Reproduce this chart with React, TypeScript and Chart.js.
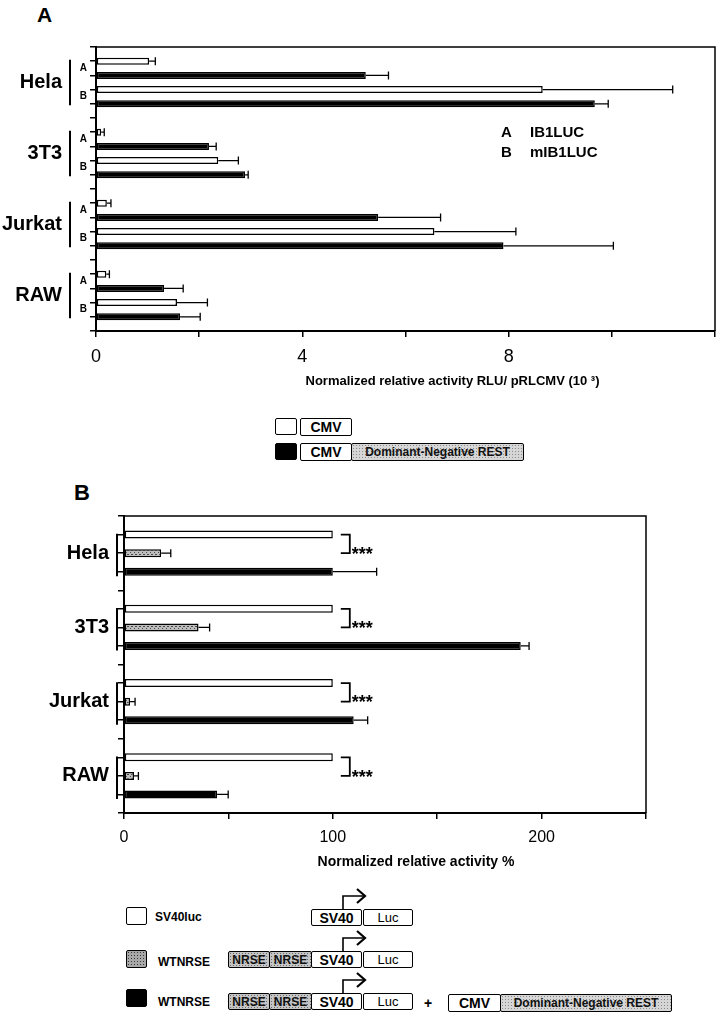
import React, { useEffect, useRef } from 'react';
import { Chart, registerables } from 'chart.js';

Chart.register(...registerables);

const FONT = '"Liberation Sans", Arial, Helvetica, sans-serif';
Chart.defaults.font.family = FONT;

// ---------- Panel A data ----------
const CELLS = ['Hela', '3T3', 'Jurkat', 'RAW'];
const A_SLOT_LABELS = ['', 'A', '', 'B', ''];
const A_X_LABELS = [0, 4, 8];
const A_KEYS = ['A', 'B'];
const A_CONSTRUCTS = ['IB1LUC', 'mIB1LUC'];
const A_TITLE = 'Normalized relative activity RLU/ pRLCMV (10 \u00b3)';

const CMV_IB1 = [1.03, 0.1, 0.21, 0.2];
const CMV_IB1_ERR = [0.12, 0.06, 0.08, 0.06];
const DN_IB1 = [5.23, 2.19, 5.47, 1.32];
const DN_IB1_ERR = [0.44, 0.14, 1.21, 0.37];
const CMV_MIB1 = [8.66, 2.37, 6.56, 1.57];
const CMV_MIB1_ERR = [2.52, 0.39, 1.58, 0.59];
const DN_MIB1 = [9.67, 2.89, 7.9, 1.63];
const DN_MIB1_ERR = [0.26, 0.06, 2.13, 0.39];

// ---------- Panel B data ----------
const B_X_LABELS = [0, 100, 200];
const B_TITLE = 'Normalized relative activity %';
const SV40 = [100, 100, 100, 100];
const WTNRSE = [17.8, 35.7, 2.9, 4.8];
const WTNRSE_ERR = [4.6, 5.3, 2.4, 2.1];
const WTNRSE_DN = [100, 190, 110, 44.6];
const WTNRSE_DN_ERR = [21, 4, 6.7, 5.3];
const SIGNIF = '***';

function stipple(ctx: CanvasRenderingContext2D, base: string, dot: string) {
  const c = document.createElement('canvas');
  c.width = 4;
  c.height = 4;
  const g = c.getContext('2d')!;
  g.fillStyle = base;
  g.fillRect(0, 0, 4, 4);
  g.fillStyle = dot;
  g.fillRect(0, 0, 1, 1);
  g.fillRect(2, 2, 1, 1);
  g.fillRect(3, 0, 1, 1);
  return ctx.createPattern(c, 'repeat');
}

const errorBars = {
  id: 'errorBars',
  afterDatasetsDraw(chart: any) {
    const ctx = chart.ctx;
    const xs = chart.scales.x;
    chart.data.datasets.forEach((ds: any, di: number) => {
      if (!ds.errors) return;
      const meta = chart.getDatasetMeta(di);
      meta.data.forEach((bar: any, j: number) => {
        const err = ds.errors[j];
        if (!err) return;
        const v = ds.data[j].x;
        const x0 = bar.x;
        const x1 = xs.getPixelForValue(v + err);
        const y = bar.y;
        ctx.save();
        ctx.strokeStyle = '#000';
        ctx.lineWidth = 1.3;
        ctx.beginPath();
        ctx.moveTo(x0, y);
        ctx.lineTo(x1, y);
        ctx.moveTo(x1, y - 4);
        ctx.lineTo(x1, y + 4);
        ctx.stroke();
        ctx.restore();
      });
    });
  },
};

function drawBox(ctx: CanvasRenderingContext2D, a: any) {
  ctx.strokeStyle = '#000';
  ctx.lineWidth = 1.5;
  ctx.beginPath();
  ctx.moveTo(a.left, a.top);
  ctx.lineTo(a.right, a.top);
  ctx.lineTo(a.right, a.bottom);
  ctx.stroke();
}

const decoA = {
  id: 'decoA',
  afterDraw(chart: any) {
    const { ctx, chartArea: a, scales } = chart;
    const y = scales.y;
    ctx.save();
    drawBox(ctx, a);
    ctx.fillStyle = '#000';
    ctx.font = `bold 20px ${FONT}`;
    ctx.textAlign = 'right';
    ctx.textBaseline = 'middle';
    CELLS.forEach((c, i) => ctx.fillText(c, a.left - 34, y.getPixelForValue(i * 5 + 2)));
    ctx.lineWidth = 2;
    CELLS.forEach((c, i) => {
      ctx.beginPath();
      ctx.moveTo(a.left - 26, y.getPixelForValue(i * 5 + 0.4));
      ctx.lineTo(a.left - 26, y.getPixelForValue(i * 5 + 3.6));
      ctx.stroke();
    });
    ctx.font = `bold 15px ${FONT}`;
    ctx.textAlign = 'left';
    A_KEYS.forEach((k, i) => {
      ctx.fillText(k, a.left + 405, a.top + 86 + i * 20);
      ctx.fillText(A_CONSTRUCTS[i], a.left + 434, a.top + 86 + i * 20);
    });
    ctx.font = `bold 13px ${FONT}`;
    ctx.textAlign = 'center';
    ctx.fillText(A_TITLE, (a.left + a.right) / 2 + 47, a.bottom + 50);
    ctx.restore();
  },
};

const decoB = {
  id: 'decoB',
  afterDraw(chart: any) {
    const { ctx, chartArea: a, scales } = chart;
    const y = scales.y;
    const x = scales.x;
    ctx.save();
    drawBox(ctx, a);
    ctx.fillStyle = '#000';
    ctx.font = `bold 20px ${FONT}`;
    ctx.textAlign = 'right';
    ctx.textBaseline = 'middle';
    CELLS.forEach((c, i) => ctx.fillText(c, a.left - 15, y.getPixelForValue(i * 4 + 1.5)));
    ctx.lineWidth = 2;
    CELLS.forEach((c, i) => {
      ctx.beginPath();
      ctx.moveTo(a.left - 7, y.getPixelForValue(i * 4 + 0.45));
      ctx.lineTo(a.left - 7, y.getPixelForValue(i * 4 + 2.75));
      ctx.stroke();
    });
    // significance brackets
    ctx.lineWidth = 1.8;
    ctx.textAlign = 'left';
    ctx.textBaseline = 'alphabetic';
    ctx.font = `bold 18px ${FONT}`;
    CELLS.forEach((c, i) => {
      const xr = x.getPixelForValue(SV40[i]);
      const y1 = y.getPixelForValue(i * 4 + 0.5);
      const y2 = y.getPixelForValue(i * 4 + 1.5);
      ctx.beginPath();
      ctx.moveTo(xr + 8, y1);
      ctx.lineTo(xr + 17, y1);
      ctx.lineTo(xr + 17, y2);
      ctx.lineTo(xr + 8, y2);
      ctx.stroke();
      ctx.fillText(SIGNIF, xr + 19, (y1 + y2) / 2 + 6 + 10);
    });
    ctx.textBaseline = 'middle';
    ctx.font = `bold 14px ${FONT}`;
    ctx.textAlign = 'center';
    ctx.fillText(B_TITLE, (a.left + a.right) / 2 + 31, a.bottom + 49);
    ctx.restore();
  },
};

const barBase = {
  borderColor: '#000',
  borderWidth: 1.5,
  borderSkipped: false,
  grouped: false,
};

const axisGrid = { drawOnChartArea: false, drawTicks: true, tickLength: 6, color: '#000', lineWidth: 1.5 };
const axisBorder = { display: true, color: '#000', width: 2 };

function makeA(canvas: HTMLCanvasElement) {
  const whitePts: any[] = [];
  const whiteErr: number[] = [];
  const blackPts: any[] = [];
  const blackErr: number[] = [];
  CELLS.forEach((c, i) => {
    whitePts.push({ x: CMV_IB1[i], y: i * 5 + 0.5 }, { x: CMV_MIB1[i], y: i * 5 + 2.5 });
    whiteErr.push(CMV_IB1_ERR[i], CMV_MIB1_ERR[i]);
    blackPts.push({ x: DN_IB1[i], y: i * 5 + 1.5 }, { x: DN_MIB1[i], y: i * 5 + 3.5 });
    blackErr.push(DN_IB1_ERR[i], DN_MIB1_ERR[i]);
  });
  return new Chart(canvas, {
    type: 'bar',
    data: {
      datasets: [
        { ...barBase, label: 'CMV', data: whitePts, errors: whiteErr, backgroundColor: '#fff', maxBarThickness: 7 } as any,
        { ...barBase, label: 'CMV + Dominant-Negative REST', data: blackPts, errors: blackErr, backgroundColor: '#000', maxBarThickness: 7 } as any,
      ],
    },
    options: {
      indexAxis: 'y',
      animation: false,
      responsive: false,
      devicePixelRatio: 1,
      layout: { padding: { left: 0, top: 47, right: 5, bottom: 0 } },
      plugins: { legend: { display: false }, tooltip: { enabled: false } },
      scales: {
        x: {
          type: 'linear',
          min: 0,
          max: 12,
          ticks: {
            stepSize: 2,
            autoSkip: false,
            maxRotation: 0,
            padding: 9,
            color: '#000',
            font: { size: 18 },
            callback: (v: any) => (A_X_LABELS.includes(Number(v)) ? String(v) : ''),
          },
          grid: axisGrid,
          border: axisBorder,
          afterFit: (s: any) => {
            s.height = 69;
          },
        },
        y: {
          type: 'linear',
          reverse: true,
          min: 0,
          max: 19,
          ticks: {
            stepSize: 1,
            autoSkip: false,
            padding: 3,
            color: '#000',
            font: { size: 10, weight: 'bold' },
            callback: (v: any) => A_SLOT_LABELS[Math.round(Number(v)) % 5] || '',
          },
          grid: axisGrid,
          border: axisBorder,
          afterFit: (s: any) => {
            s.width = 96;
          },
        },
      } as any,
    },
    plugins: [errorBars, decoA],
  });
}

function makeB(canvas: HTMLCanvasElement) {
  const ctx = canvas.getContext('2d')!;
  const grey = stipple(ctx, '#bdbdbd', '#4a4a4a');
  const whitePts = CELLS.map((c, i) => ({ x: SV40[i], y: i * 4 + 0.5 }));
  const greyPts = CELLS.map((c, i) => ({ x: WTNRSE[i], y: i * 4 + 1.5 }));
  const blackPts = CELLS.map((c, i) => ({ x: WTNRSE_DN[i], y: i * 4 + 2.5 }));
  return new Chart(canvas, {
    type: 'bar',
    data: {
      datasets: [
        { ...barBase, label: 'SV40luc', data: whitePts, backgroundColor: '#fff', maxBarThickness: 8 } as any,
        { ...barBase, label: 'WTNRSE', data: greyPts, errors: WTNRSE_ERR, backgroundColor: grey, maxBarThickness: 8 } as any,
        { ...barBase, label: 'WTNRSE + DN-REST', data: blackPts, errors: WTNRSE_DN_ERR, backgroundColor: '#000', maxBarThickness: 8 } as any,
      ],
    },
    options: {
      indexAxis: 'y',
      animation: false,
      responsive: false,
      devicePixelRatio: 1,
      layout: { padding: { left: 0, top: 46, right: 78, bottom: 0 } },
      plugins: { legend: { display: false }, tooltip: { enabled: false } },
      scales: {
        x: {
          type: 'linear',
          min: 0,
          max: 250,
          ticks: {
            stepSize: 50,
            autoSkip: false,
            maxRotation: 0,
            padding: 9,
            color: '#000',
            font: { size: 16 },
            callback: (v: any) => (B_X_LABELS.includes(Number(v)) ? String(v) : ''),
          },
          grid: axisGrid,
          border: axisBorder,
          afterFit: (s: any) => {
            s.height = 57;
          },
        },
        y: {
          type: 'linear',
          reverse: true,
          min: 0,
          max: 15,
          ticks: {
            stepSize: 1,
            autoSkip: false,
            padding: 3,
            color: '#000',
            callback: () => '',
          },
          grid: axisGrid,
          border: axisBorder,
          afterFit: (s: any) => {
            s.width = 124;
          },
        },
      } as any,
    },
    plugins: [errorBars, decoB],
  });
}

function ChartCanvas({ top, height, make }: { top: number; height: number; make: (c: HTMLCanvasElement) => Chart }) {
  const ref = useRef<HTMLCanvasElement>(null);
  useEffect(() => {
    const chart = make(ref.current!);
    return () => chart.destroy();
  }, []);
  return (
    <canvas
      ref={ref}
      width={724}
      height={height}
      style={{ position: 'absolute', left: 0, top, width: 724, height, display: 'block' }}
    />
  );
}

const STIPPLE_DARK: React.CSSProperties = {
  backgroundColor: '#a8a8a8',
  backgroundImage: 'radial-gradient(circle, #3a3a3a 0.7px, transparent 1px)',
  backgroundSize: '3px 3px',
};
const STIPPLE_MID: React.CSSProperties = {
  backgroundColor: '#c4c4c4',
  backgroundImage: 'radial-gradient(circle, #6a6a6a 0.6px, transparent 0.9px)',
  backgroundSize: '3px 3px',
};
const STIPPLE_LIGHT: React.CSSProperties = {
  backgroundColor: '#d6d6d6',
  backgroundImage: 'radial-gradient(circle, #8a8a8a 0.6px, transparent 0.9px)',
  backgroundSize: '3px 3px',
};

function Box({
  l, t, w, h, bg = '#fff', text, fs = 14, weight = 'bold', extra, color = '#000',
}: {
  l: number; t: number; w: number; h: number; bg?: string; text?: string; fs?: number; weight?: any; extra?: React.CSSProperties; color?: string;
}) {
  return (
    <div
      style={{
        position: 'absolute', left: l, top: t, width: w, height: h, boxSizing: 'border-box',
        border: '1.5px solid #000', borderRadius: 2, background: bg, display: 'flex',
        alignItems: 'center', justifyContent: 'center', fontSize: fs, fontWeight: weight,
        lineHeight: 1, whiteSpace: 'nowrap', color, ...(extra || {}),
      }}
    >
      {text}
    </div>
  );
}

function Label({ l, cy, text, fs, weight = 'bold' }: { l: number; cy: number; text: string; fs: number; weight?: any }) {
  return (
    <div
      style={{
        position: 'absolute', left: l, top: cy, transform: 'translateY(-50%)', fontSize: fs,
        fontWeight: weight, lineHeight: 1, whiteSpace: 'nowrap',
      }}
    >
      {text}
    </div>
  );
}

function Arrow({ l, t }: { l: number; t: number }) {
  return (
    <svg width={30} height={24} style={{ position: 'absolute', left: l, top: t }}>
      <polyline points="3,23 3,10 24,10" fill="none" stroke="#000" strokeWidth={1.6} />
      <polyline points="17,3 25,10 17,17" fill="none" stroke="#000" strokeWidth={2.2} />
    </svg>
  );
}

const PROMOTER_ROWS = [909, 951, 993];

export default function App() {
  return (
    <div style={{ position: 'absolute', left: 0, top: 0, width: 724, height: 1019, fontFamily: FONT, color: '#000' }}>
      <Label l={37} cy={14} text="A" fs={21} />
      <ChartCanvas top={0} height={400} make={makeA} />

      {/* Legend A */}
      <Box l={275} t={418} w={22} h={17} />
      <Box l={300} t={418} w={52} h={18} text="CMV" fs={14} />
      <Box l={275} t={443} w={22} h={17} bg="#000" />
      <Box l={300} t={443} w={52} h={18} text="CMV" fs={14} />
      <Box l={351} t={443} w={173} h={18} text="Dominant-Negative REST" fs={12} extra={STIPPLE_LIGHT} color="#111" />

      <Label l={74} cy={493} text="B" fs={22} />
      <ChartCanvas top={470} height={400} make={makeB} />

      {/* Legend B */}
      <Box l={126} t={907} w={21} h={18} />
      <Label l={155} cy={917} text="SV40luc" fs={12} />
      <Box l={126} t={950} w={21} h={18} extra={STIPPLE_DARK} />
      <Label l={158} cy={962} text="WTNRSE" fs={12} />
      <Box l={126} t={989} w={21} h={18} bg="#000" />
      <Label l={158} cy={1002} text="WTNRSE" fs={12} />

      {PROMOTER_ROWS.map((t, r) => (
        <React.Fragment key={r}>
          {r > 0 && <Box l={228} t={t} w={42} h={17} text="NRSE" fs={12} extra={STIPPLE_MID} color="#111" />}
          {r > 0 && <Box l={269} t={t} w={43} h={17} text="NRSE" fs={12} extra={STIPPLE_MID} color="#111" />}
          <Box l={311} t={t} w={51} h={17} text="SV40" fs={14} />
          <Box l={363} t={t} w={50} h={17} text="Luc" fs={13} weight="normal" />
          <Arrow l={340} t={t - 23} />
        </React.Fragment>
      ))}
      <Label l={424} cy={1003} text="+" fs={14} />
      <Box l={448} t={994} w={53} h={18} text="CMV" fs={14} />
      <Box l={500} t={994} w={172} h={18} text="Dominant-Negative REST" fs={12} extra={STIPPLE_LIGHT} color="#111" />
    </div>
  );
}
